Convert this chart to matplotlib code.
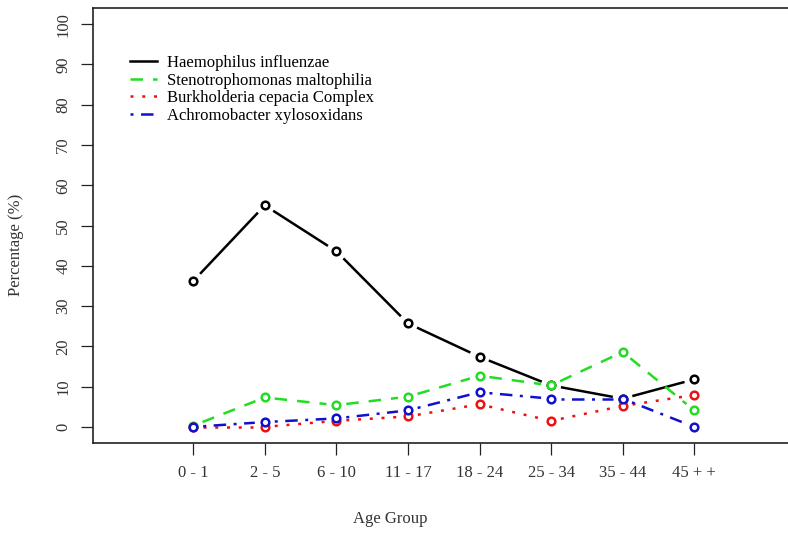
import numpy as np
import matplotlib
matplotlib.use('Agg')
import matplotlib.pyplot as plt
from matplotlib.lines import Line2D

# age groups on the x axis
age_groups = ['0 - 1', '2 - 5', '6 - 10', '11 - 17', '18 - 24', '25 - 34', '35 - 44', '45 + +']

# percentage per organism
haemophilus = [36.2, 55.0, 43.6, 25.7, 17.4, 10.3, 7.0, 11.8]
stenotrophomonas = [0.3, 7.3, 5.4, 7.5, 12.7, 10.3, 18.6, 4.1]
burkholderia = [0.0, 0.0, 1.5, 2.6, 5.6, 1.5, 5.2, 7.9]
achromobacter = [0.0, 1.2, 2.1, 4.1, 8.6, 7.0, 7.0, 0.0]

series_names = ['Haemophilus influenzae', 'Stenotrophomonas maltophilia',
                'Burkholderia cepacia Complex', 'Achromobacter xylosoxidans']

SERIF = ['Liberation Serif', 'DejaVu Serif']


def gapped_segments(ax, x, y, gap):
    """
    R type="b": each segment stops short of the points by gap pixels
    """
    to_px = ax.transData
    to_data = ax.transData.inverted()
    pts = to_px.transform(np.column_stack([x, y]))
    segs = []
    for p, q in zip(pts[:-1], pts[1:]):
        d = q - p
        n = np.hypot(*d)
        if n <= 2 * gap:
            continue
        u = d / n
        segs.append(to_data.transform([p + u * gap, q - u * gap]))
    return segs


def main():
    fig = plt.figure(figsize=(7.88, 5.33), dpi=100)
    W, H = 788, 533
    # plot region in pixels: left 93, right 866 (cropped), top 8, bottom 443
    ax = fig.add_axes([93 / W, (H - 443) / H, (866 - 93) / W, (443 - 8) / H])
    ax.set_xlim(-0.4, 10.4)
    ax.set_ylim(-4, 104)

    x = np.arange(1, len(age_groups) + 1)
    styles = [
        (haemophilus, 'black', (None, None)),
        (stenotrophomonas, '#22dd22', (5, 4)),
        (burkholderia, '#ee1111', (1.2, 3.5)),
        (achromobacter, '#1111cc', (1.2, 3, 5, 3)),
    ]
    lw = 1.8
    handles = []
    for values, color, dashes in styles:
        for seg in gapped_segments(ax, x, values, 10):
            line, = ax.plot(seg[:, 0], seg[:, 1], color=color, lw=lw,
                            solid_capstyle='butt', dash_capstyle='butt')
            if dashes[0] is not None:
                line.set_dashes(dashes)
        ax.plot(x, values, 'o', ms=5.5, mfc='white', mec=color, mew=1.8, zorder=3)
        h = Line2D([], [], color=color, lw=lw, dash_capstyle='butt')
        if dashes[0] is not None:
            h.set_dashes(dashes)
        handles.append(h)

    ax.set_xticks(x)
    ax.set_xticklabels(age_groups, family=SERIF, fontsize=12)
    ax.set_yticks(range(0, 101, 10))
    ax.set_yticklabels([str(v) for v in range(0, 101, 10)], family=SERIF,
                       fontsize=12, rotation=90, va='center')
    ax.tick_params(length=8.6, width=0.9, pad=7, colors='#222222', labelcolor='#333333')
    for s in ax.spines.values():
        s.set_linewidth(1.2)
        s.set_color('#222222')

    fig.text(16 / W, 1 - 245 / H, 'Percentage (%)', rotation=90, ha='center',
             va='center', family=SERIF, fontsize=12, color='#333333')
    fig.text(390 / W, 1 - 519 / H, 'Age Group', ha='center', va='center',
             family=SERIF, fontsize=12, color='#333333')

    fig.legend(handles, series_names, loc='upper left',
               bbox_to_anchor=(130 / W, 1 - 55 / H), frameon=False,
               prop={'family': SERIF, 'size': 12}, handlelength=1.6,
               handletextpad=0.6, labelspacing=0.1, borderpad=0,
               borderaxespad=0)

    fig.savefig('out.png', dpi=100)


if __name__ == '__main__':
    main()
